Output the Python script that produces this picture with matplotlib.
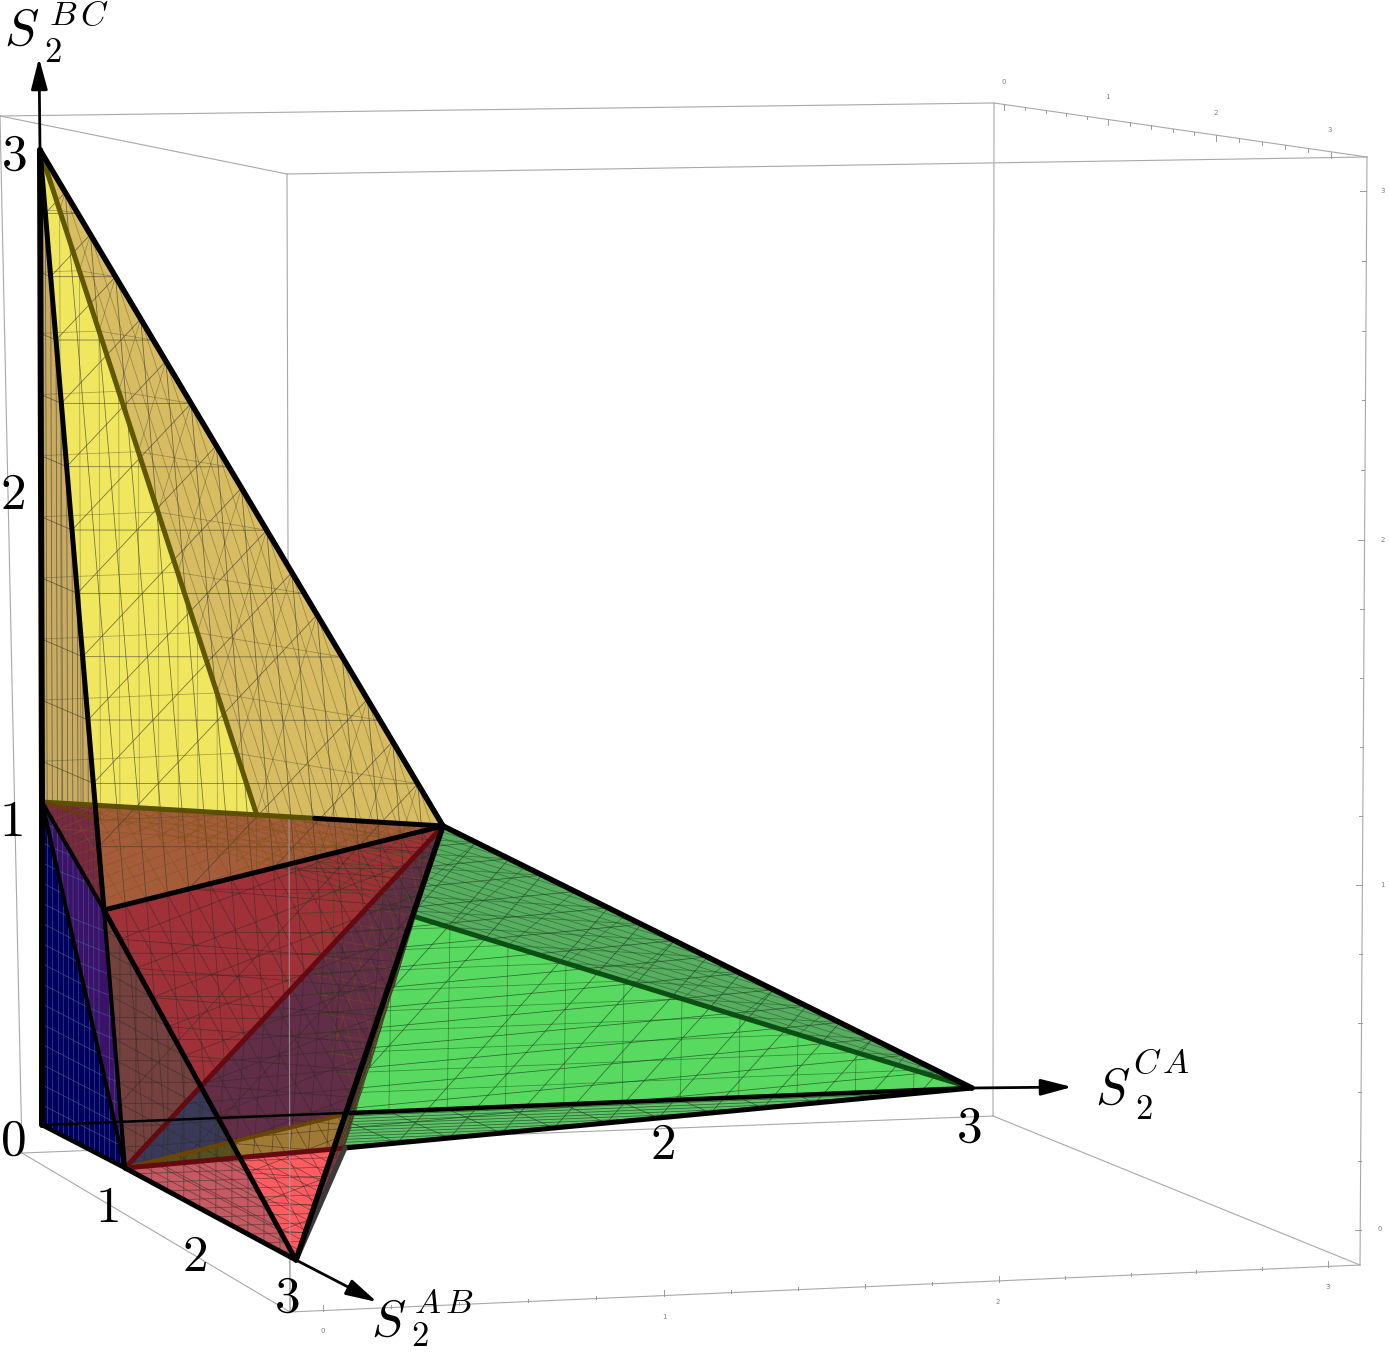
import numpy as np
import matplotlib
matplotlib.use('Agg')
from matplotlib import pyplot as plt
from matplotlib.collections import LineCollection
from matplotlib.patches import Polygon, FancyArrowPatch

plt.rcParams['mathtext.fontset'] = 'cm'

# vertices of the regions in (S2AB, S2CA, S2BC)
VERTICES = {
    'O': (0, 0, 0),
    'X1': (1, 0, 0), 'X3': (3, 0, 0),
    'Y1': (0, 1, 0), 'Y3': (0, 3, 0),
    'Z1': (0, 0, 1), 'Z3': (0, 0, 3),
    'A': (0, .75, .75), 'B': (.75, 0, .75), 'C': (.75, .75, 0),
    'P': (1, 1, 1),
}
# where these vertices sit in the picture
PIXELS = {
    'O': (42, 1125),
    'X1': (125, 1168), 'X3': (296, 1260),
    'Y1': (350, 1113), 'Y3': (972, 1088),
    'Z1': (42, 802), 'Z3': (40, 150),
    'A': (276, 874), 'B': (104, 910), 'C': (345, 1148),
    'P': (443, 826),
}

# mesh: faces, spacing on each axis (None = no lines), colour, alpha
MESH_YELLOW = (['Z3 Z1 B', 'Z3 B P'], (1 / 16, 1 / 16, 3 / 16), '#3a3a30', 0.7)
MESH_YELLOW_BACK = (['Z3 Z1 A', 'Z3 A P'], (1 / 16, 1 / 16, 3 / 16), '#4a4a30', 0.45)
MESH_YELLOW_LOW = (['Z1 B P', 'Z1 A P'], (1 / 16, 1 / 16, 3 / 16), '#80560f', 0.55)
MESH_GREEN = (['Y3 C P'], (1 / 16, None, 1 / 16), '#1c3a20', 0.7)
MESH_GREEN_FLOOR = (['Y3 Y1 C'], (1 / 16, 3 / 16, None), '#1c3a20', 0.7)
MESH_GREEN_BACK = (['Y3 Y1 A', 'Y3 A P'], (1 / 16, 3 / 16, 1 / 16), '#1c4a20', 0.55)
MESH_GREEN_LOW = (['Y1 A P', 'Y1 C P'], (1 / 16, 3 / 16, 1 / 16), '#80560f', 0.45)
MESH_RED = (['X3 B P', 'X3 X1 B', 'X3 X1 C', 'X3 C P', 'X1 B P', 'X1 C P'], (3 / 16, 1 / 16, 1 / 16), '#302a28', 0.6)
MESH_BLUE = (['O X1 Z1', 'Z1 X1 B'], (1 / 16, 1 / 16, 1 / 16), '#4a5aa0', 0.7)
MESH_CUTS = range(1, 16)

# edge lists: vertices, colour, width in pixels
EDGES = [
    ('X1 Y1', '#6a4400', 4),
    ('X1 P', '#650a10', 5),
    ('X1 C', '#650a10', 5),
    ('Y3 Y1', '#000000', 4.5),
    ('Y3 C', '#000000', 5),
    ('Y3 P', '#000000', 5.5),
    ('Z3 P', '#000000', 5.5),
    ('Z3 B', '#000000', 5),
    ('Z3 Z1', '#000000', 6),
    ('Z1 O', '#000000', 6),
    ('Z1 B', '#000000', 4),
    ('Z1 X1', '#000000', 4),
    ('B P', '#000000', 5),
    ('B X1', '#000000', 4),
    ('B X3', '#000000', 5),
    ('X3 C', '#3a3a3a', 5),
    ('X3 P', '#000000', 5.5),
    ('X3 X1', '#000000', 5),
    ('O X1', '#000000', 4.5),
]

# bounding box of the plot, pixel corners
BOX_EDGES = [
    ((0, 116), (994, 103)), ((0, 116), (287, 174)), ((287, 174), (1367, 157)), ((994, 103), (1367, 157)),
    ((0, 116), (22, 1153)), ((287, 174), (290, 1312)), ((994, 103), (993, 1116)), ((1367, 157), (1360, 1265)),
    ((22, 1153), (290, 1312)), ((290, 1312), (1360, 1265)), ((993, 1116), (1360, 1265)), ((22, 1153), (993, 1116)),
]
FRONT_EDGE_OVER = ((289, 815), (290, 1312))
TICK_VALUES = [0, 1, 2, 3]
TOP_TICKS = [(1004, 104), (1108, 119), (1216, 135), (1331, 152)]
TOP_LABELS = [(1004, 82), (1107, 97), (1216, 113), (1330, 130)]
FRONT_TICKS = [(323, 1311), (664, 1296), (999, 1282), (1328, 1267)]
FRONT_LABELS = [(323, 1331), (664, 1317), (998, 1302), (1328, 1287)]
SIDE_TICKS = [(1361, 1230), (1362, 885), (1364, 540), (1366, 191)]
SIDE_LABELS = [(1380, 1229), (1382, 885), (1383, 540), (1383, 191)]

# big hand placed axis numbers
AB_LABELS = [(107, 1208), (195, 1257), (287, 1298)]
CA_LABELS = [(662, 1145), (969, 1128)]
BC_LABELS = [(11, 822), (13, 495), (14, 156)]
ORIGIN_LABEL = (13, 1141)


def px(nombre):
    return np.array(PIXELS[nombre], dtype=float)


def corte(a, b, c, d):
    # crossing of the lines a-b and c-d in the picture
    a, b, c, d = px(a), px(b), px(c), px(d)
    t = np.linalg.solve(np.array([b - a, c - d]).T, c - a)[0]
    return a + t * (b - a)


def mesh_de_cara(cara, pasos):
    # cut a triangular face with the planes x, y, z = level
    nombres = cara.split()
    segmentos = []
    for eje in range(3):
        if pasos[eje] is None:
            continue
        for k in MESH_CUTS:
            nivel = k * pasos[eje]
            puntos = []
            for i in range(3):
                n1, n2 = nombres[i], nombres[(i + 1) % 3]
                v1, v2 = VERTICES[n1][eje], VERTICES[n2][eje]
                if v1 == v2:
                    continue
                t = (nivel - v1) / (v2 - v1)
                if 0 < t < 1:
                    puntos.append(px(n1) + t * (px(n2) - px(n1)))
            if len(puntos) == 2:
                segmentos.append(puntos)
    return segmentos


def pinta(ax, puntos, color):
    pts = [px(p) if isinstance(p, str) else p for p in puntos]
    ax.add_patch(Polygon(pts, closed=True, facecolor=color, edgecolor=color, linewidth=0.3, zorder=2))


def flecha(ax, inicio, fin):
    ax.add_patch(FancyArrowPatch(inicio, fin, arrowstyle='-|>,head_length=1.9,head_width=0.5',
                                 mutation_scale=10, shrinkA=0, shrinkB=0, color='black', linewidth=2, zorder=6))


def raya(ax, p, q, color, ancho, zorder=4):
    ax.plot([p[0], q[0]], [p[1], q[1]], color=color, linewidth=ancho * 0.72, solid_capstyle='round', zorder=zorder)


fig = plt.figure(figsize=(13.89, 13.53), dpi=100)
ax = fig.add_axes([0, 0, 1, 1])
ax.set_xlim(0, 1389)
ax.set_ylim(1353, 0)
ax.axis('off')

# box
for p, q in BOX_EDGES:
    ax.plot([p[0], q[0]], [p[1], q[1]], color='#a8a8a8', linewidth=0.8, zorder=1)
ax.plot([FRONT_EDGE_OVER[0][0], FRONT_EDGE_OVER[1][0]], [FRONT_EDGE_OVER[0][1], FRONT_EDGE_OVER[1][1]],
        color='#a0a0a0', linewidth=0.8, alpha=0.8, zorder=3.5)
for ticks, labels, direccion in [(TOP_TICKS, TOP_LABELS, (0, 6)), (FRONT_TICKS, FRONT_LABELS, (0, -6)), (SIDE_TICKS, SIDE_LABELS, (-6, 0))]:
    t = np.array(ticks, dtype=float)
    for i in range(3):
        for k in range(5):
            q = t[i] + k / 5 * (t[i + 1] - t[i])
            largo = 1 if k == 0 else 0.55
            ax.plot([q[0], q[0] + largo * direccion[0]], [q[1], q[1] + largo * direccion[1]], color='#999999', linewidth=0.7, zorder=1)
    ax.plot([t[3][0], t[3][0] + direccion[0]], [t[3][1], t[3][1] + direccion[1]], color='#999999', linewidth=0.7, zorder=1)
    for v, l in zip(TICK_VALUES, labels):
        ax.text(l[0], l[1], str(v), fontsize=5, color='#808080', ha='center', va='center', zorder=1)

# helper crossings for the overlapping zones
I_zb = corte('Z3', 'B', 'Z1', 'P')
I_a = corte('X1', 'P', 'B', 'X3')
I_b = corte('X1', 'Y1', 'B', 'X3')
I_c = corte('X1', 'C', 'B', 'X3')
I_za = corte('Z3', 'A', 'Z1', 'P')
I_ya = corte('Y3', 'A', 'X3', 'P')

# green region
pinta(ax, ['P', 'Y3', 'A'], '#57AD60')
pinta(ax, ['A', 'Y3', 'C'], '#58DA60')
pinta(ax, ['Y1', 'Y3', 'C'], '#5CC366')
# yellow region
pinta(ax, ['Z3', 'A', 'P'], '#D8BC62')
pinta(ax, ['Z3', 'B', 'A'], '#F1E75E')
pinta(ax, ['Z3', 'Z1', 'B'], '#C9AC62')
# blue
pinta(ax, ['O', 'X1', 'Z1'], '#00005C')
# red region
pinta(ax, ['Z1', 'B', 'P'], '#A45C3A')
pinta(ax, ['Z1', I_zb, 'B'], '#7A2842')
pinta(ax, ['Z1', 'X1', 'B'], '#3B1268')
pinta(ax, ['B', I_a, 'X1'], '#74413F')
pinta(ax, ['B', 'P', I_a], '#A03138')
pinta(ax, [I_a, 'P', 'Y1', I_b], '#622D46')
pinta(ax, ['X1', I_a, I_b], '#3A3A58')
pinta(ax, ['X1', 'X3', I_c], '#C65A62')
pinta(ax, ['X1', I_b, I_c], '#56501F')
pinta(ax, [I_b, 'Y1', 'C', I_c], '#A07A35')
pinta(ax, [I_c, 'C', 'X3'], '#FF5C62')

# mesh
for caras, pasos, color, alfa in [MESH_YELLOW_BACK, MESH_YELLOW, MESH_YELLOW_LOW, MESH_GREEN_BACK, MESH_GREEN,
                                  MESH_GREEN_FLOOR, MESH_GREEN_LOW, MESH_RED, MESH_BLUE]:
    segmentos = []
    for cara in caras:
        segmentos += mesh_de_cara(cara, pasos)
    ax.add_collection(LineCollection(segmentos, colors=color, alpha=alfa, linewidths=0.55, zorder=3))

# edges
raya(ax, px('Z3'), I_za, '#5f5800', 5)
raya(ax, px('Y3'), I_ya, '#0b4f14', 5)
raya(ax, px('Z1'), px('Z1') + 0.68 * (px('P') - px('Z1')), '#5a5000', 5)
raya(ax, px('Z1') + 0.68 * (px('P') - px('Z1')), px('P'), '#000000', 5)
raya(ax, px('Z1'), px('Z1') + 0.24 * (px('A') - px('Z1')), '#6b3a10', 3)
for nombres, color, ancho in EDGES:
    a, b = nombres.split()
    raya(ax, px(a), px(b), color, ancho)

# axes drawn on top
ax.plot([42, 972], [1125, 1088], color='black', linewidth=1.8, zorder=5)
flecha(ax, (972, 1088), (1072, 1087))
flecha(ax, (296, 1260), (377, 1302))
flecha(ax, (40, 150), (39, 58))

for (x, y), texto in zip(AB_LABELS + CA_LABELS + BC_LABELS + [ORIGIN_LABEL], ['1', '2', '3', '2', '3', '1', '2', '3', '0']):
    ax.text(x, y, f'${texto}$', fontsize=37, ha='center', va='center', zorder=7)

for s_pos, sub_pos, sup_pos, sup in [((22, 31), (53, 52), (79, 15), r'B\,C'),
                                     ((1113, 1090), (1144, 1109), (1161, 1063), r'C\,A'),
                                     ((389, 1322), (420, 1336), (444, 1303), r'A\,B')]:
    ax.text(s_pos[0], s_pos[1], '$S$', fontsize=37, ha='center', va='center', zorder=7)
    ax.text(sub_pos[0], sub_pos[1], '$2$', fontsize=25, ha='center', va='center', zorder=7)
    ax.text(sup_pos[0], sup_pos[1], f'${sup}$', fontsize=25, ha='center', va='center', zorder=7)

fig.savefig('out.png', dpi=100)
